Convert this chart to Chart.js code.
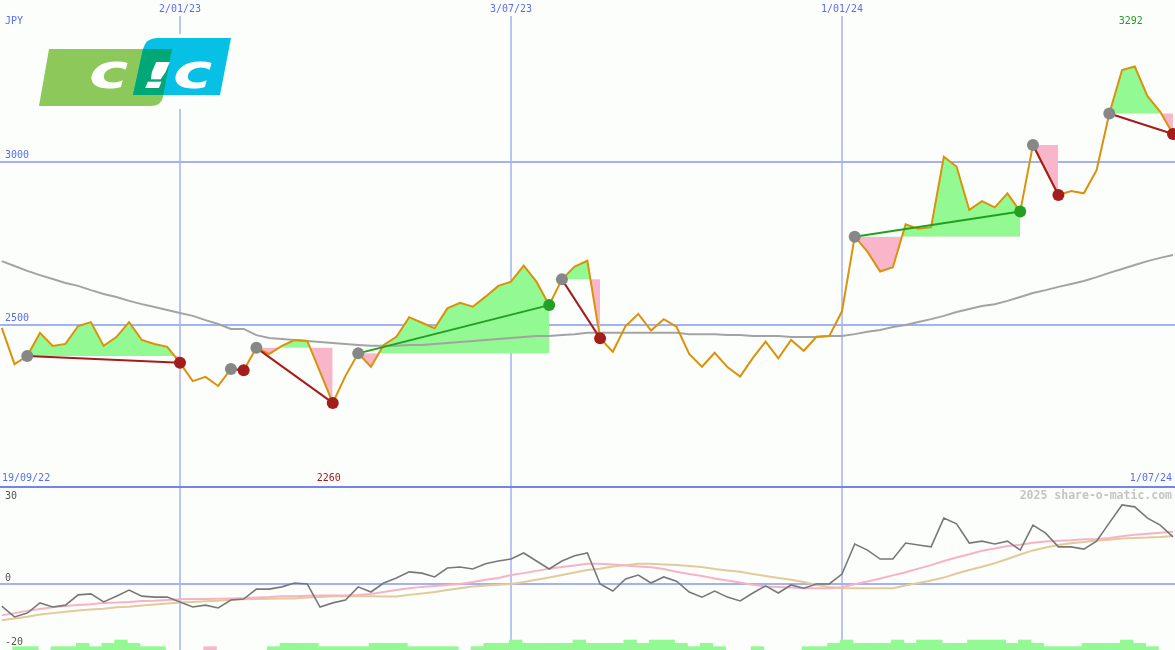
<!DOCTYPE html>
<html>
<head>
<meta charset="utf-8">
<script src="https://cdn.jsdelivr.net/npm/chart.js@4.4.1/dist/chart.umd.min.js"></script>
<style>
body { margin: 0; background: #fcfefc; }
#wrap { width: 1175px; height: 650px; position: relative; overflow: hidden; }
canvas { display: block; }
</style>
</head>
<body>
<div id="wrap">
<canvas id="priceChart" width="1175" height="488"></canvas>
<canvas id="oscChart" width="1175" height="162"></canvas>
</div>
<script>
// weekly closes, 19/09/22 .. 1/07/24 (index = week)
const price = [2490, 2379, 2404, 2475, 2435, 2441, 2496, 2508, 2435, 2462,
  2508, 2453, 2441, 2432, 2383, 2327, 2340, 2312, 2364, 2360,
  2429, 2410, 2435, 2453, 2450, 2355, 2260, 2343, 2412, 2371,
  2438, 2463, 2523, 2506, 2489, 2550, 2567, 2555, 2586, 2619,
  2632, 2681, 2632, 2560, 2639, 2678, 2696, 2458, 2417, 2496,
  2533, 2482, 2517, 2494, 2410, 2371, 2414, 2370, 2341, 2398,
  2448, 2397, 2453, 2420, 2463, 2465, 2541, 2770, 2724, 2663,
  2676, 2808, 2794, 2799, 3015, 2985, 2852, 2879, 2860, 2903,
  2847, 3051, 2974, 2898, 2910, 2903, 2974, 3148, 3281, 3292,
  3201, 3153, 3085];

const movingAvg = [2695, 2680, 2665, 2652, 2640, 2628, 2619, 2606, 2594, 2585,
  2573, 2563, 2554, 2545, 2536, 2527, 2514, 2502, 2487, 2487,
  2468, 2459, 2456, 2453, 2450, 2447, 2444, 2441, 2438, 2435,
  2435, 2435, 2438, 2438, 2441, 2444, 2447, 2450, 2453, 2456,
  2459, 2462, 2465, 2465, 2468, 2471, 2475, 2475, 2475, 2475,
  2475, 2475, 2475, 2475, 2471, 2471, 2471, 2468, 2468, 2465,
  2465, 2465, 2462, 2462, 2462, 2465, 2465, 2471, 2478, 2484,
  2493, 2499, 2508, 2517, 2527, 2539, 2548, 2557, 2563, 2573,
  2585, 2597, 2606, 2616, 2625, 2634, 2646, 2659, 2671, 2683,
  2695, 2705, 2714];

// trend swings: start week / end week
const segStart = [2, 18, 20, 28, 44, 67, 81, 87];
const segEnd = [14, 19, 26, 43, 47, 80, 83, 92];

const momentum = [-6.9, -10.3, -9.1, -5.9, -7.2, -6.6, -3.4, -3.1, -5.6, -3.8,
  -1.9, -3.8, -4.1, -4.1, -5.6, -7.2, -6.6, -7.5, -5.0, -4.7,
  -1.6, -1.6, -0.9, 0.3, 0, -7.2, -5.9, -5.0, -0.9, -2.5,
  0.3, 1.9, 3.8, 3.4, 2.2, 5.0, 5.3, 4.7, 6.3, 7.2,
  7.8, 9.7, 7.2, 4.7, 7.2, 8.8, 9.7, 0, -2.2, 1.6,
  2.8, 0.3, 2.2, 0.9, -2.5, -4.1, -2.2, -4.1, -5.3, -2.8,
  -0.6, -2.8, -0.3, -1.3, 0, 0, 3.1, 12.5, 10.6, 7.8,
  7.8, 12.8, 12.2, 11.6, 20.6, 18.8, 12.8, 13.4, 12.5, 13.4,
  10.6, 18.4, 15.9, 11.6, 11.6, 10.9, 13.4, 19.1, 24.7, 24.1,
  20.6, 18.4, 14.7];

const signalFast = [-9.8, -9.1, -8.4, -7.8, -7.3, -6.9, -6.6, -6.3, -5.9, -5.8,
  -5.6, -5.3, -5.2, -5.0, -4.8, -4.7, -4.7, -4.6, -4.5, -4.4,
  -4.2, -4.1, -3.8, -3.8, -3.7, -3.6, -3.6, -3.6, -3.4, -3.1,
  -2.5, -1.9, -1.3, -0.9, -0.6, -0.3, 0, 0.6, 1.3, 1.9,
  2.8, 3.4, 4.1, 4.8, 5.3, 5.8, 6.3, 6.3, 6.1, 5.8,
  5.5, 5.2, 4.7, 3.8, 3.1, 2.5, 1.7, 1.1, 0.5, -0.2,
  -0.8, -0.9, -1.1, -1.3, -1.3, -1.3, -1.0, -0.1, 0.8, 1.7,
  2.7, 3.7, 4.8, 5.9, 7.2, 8.3, 9.3, 10.4, 11.1, 11.9,
  12.3, 12.9, 13.3, 13.5, 13.7, 14.0, 14.1, 14.4, 14.9, 15.4,
  15.7, 16.0, 16.3];

const signalSlow = [-11.3, -10.8, -10.2, -9.5, -9.1, -8.7, -8.3, -8.0, -7.7, -7.3,
  -7.1, -6.7, -6.4, -6.1, -5.8, -5.6, -5.4, -5.2, -4.9, -4.8,
  -4.7, -4.6, -4.5, -4.5, -4.2, -4.1, -3.8, -3.8, -3.8, -3.8,
  -3.9, -3.9, -3.4, -3.0, -2.5, -1.9, -1.3, -0.8, -0.5, -0.2,
  0, 0.6, 1.3, 2.0, 2.8, 3.6, 4.4, 4.8, 5.5, 5.9,
  6.3, 6.3, 6.1, 5.9, 5.6, 5.3, 4.7, 4.2, 3.8, 3.1,
  2.5, 1.9, 1.3, 0.6, -0.3, -0.9, -1.3, -1.3, -1.3, -1.3,
  -1.3, -0.5, 0.3, 1.1, 2.0, 3.3, 4.4, 5.4, 6.5, 7.8,
  9.2, 10.5, 11.4, 12.2, 12.7, 13.1, 13.6, 13.8, 14.2, 14.4,
  14.5, 14.7, 15.0];

// strength histogram (negative = pink)
const strength = [0, 1, 1, 0, 1, 1, 2, 1, 2, 3,
  2, 1, 1, 0, 0, 0, -1, 0, 0, 0,
  0, 1, 2, 2, 2, 1, 1, 1, 1, 2,
  2, 2, 1, 1, 1, 1, 0, 1, 2, 2,
  3, 2, 2, 2, 2, 3, 2, 2, 2, 3,
  2, 3, 3, 2, 1, 2, 1, 0, 0, 1,
  0, 0, 0, 1, 1, 2, 3, 2, 2, 2,
  3, 2, 3, 3, 2, 2, 3, 3, 3, 2,
  3, 2, 1, 1, 1, 2, 2, 2, 3, 2,
  1, 0, 0];

const dateTickIdx = [14, 40, 66];
const dateTickLabels = ['2/01/23', '3/07/23', '1/01/24'];
const firstDate = '19/09/22';
const lastDate = '1/07/24';
const priceTicks = [2500, 3000];
const oscTicks = [30, 0, -20];

const XMIN = -0.14, XMAX = 92.16;
const BG = '#fcfefc';
const GRID = '#a4b2f2';
const LABEL = '#5a6cf0';
const MONO = '10px "DejaVu Sans Mono", monospace';
const GAIN_FILL = '#93f993';
const LOSS_FILL = '#f9b5ca';
const UP = '#239f23';
const DOWN = '#a41c1c';
const WEEK_PX = 1175 / (XMAX - XMIN);

function pts(arr) {
    return arr.map(function (v, i) { return {x: i, y: v}; });
}

function hline(ctx, x1, x2, y) {
    ctx.beginPath(); ctx.moveTo(x1, y); ctx.lineTo(x2, y); ctx.stroke();
}

function vline(ctx, x, y1, y2) {
    ctx.beginPath(); ctx.moveTo(x, y1); ctx.lineTo(x, y2); ctx.stroke();
}

function greenPath(ctx) {
    ctx.beginPath();
    ctx.moveTo(49, 49); ctx.lineTo(172, 49); ctx.lineTo(163, 97);
    ctx.quadraticCurveTo(161, 106, 151, 106);
    ctx.lineTo(39, 106); ctx.closePath();
}

function bluePath(ctx) {
    ctx.beginPath();
    ctx.moveTo(133, 95); ctx.lineTo(143, 49);
    ctx.quadraticCurveTo(146, 38, 157, 38);
    ctx.lineTo(231, 38); ctx.lineTo(220, 95); ctx.closePath();
}

function logoChar(ctx, ch, x, y, sx, sy) {
    ctx.save();
    ctx.translate(x, y);
    ctx.scale(sx, sy);
    ctx.fillText(ch, 0, 0);
    ctx.restore();
}

function drawLogo(ctx) {
    ctx.save();
    ctx.fillStyle = BG;
    ctx.fillRect(34, 34, 202, 75);
    ctx.fillStyle = '#8dc85a';
    greenPath(ctx); ctx.fill();
    ctx.fillStyle = '#06c0e6';
    bluePath(ctx); ctx.fill();
    ctx.save();
    greenPath(ctx); ctx.clip();
    ctx.fillStyle = '#00a878';
    bluePath(ctx); ctx.fill();
    ctx.restore();
    ctx.fillStyle = '#ffffff';
    ctx.font = 'italic bold 48px "DejaVu Sans"';
    ctx.textBaseline = 'alphabetic';
    logoChar(ctx, 'c', 89, 88, 1.38, 1);
    logoChar(ctx, 'c', 173, 88, 1.38, 1);
    logoChar(ctx, '!', 140, 88, 1.6, 0.74);
    ctx.restore();
}

const topDecor = {
    id: 'topDecor',
    beforeDatasetsDraw(chart) {
        const ctx = chart.ctx, x = chart.scales.x, y = chart.scales.y;
        ctx.save();
        ctx.strokeStyle = GRID;
        ctx.lineWidth = 2;
        priceTicks.forEach(function (v) { hline(ctx, 0, 1175, Math.round(y.getPixelForValue(v))); });
        ctx.lineWidth = 1.5;
        dateTickIdx.forEach(function (k) { vline(ctx, Math.round(x.getPixelForValue(k)), 16, 488); });
        ctx.restore();
    },
    afterDraw(chart) {
        const ctx = chart.ctx, x = chart.scales.x, y = chart.scales.y;
        drawLogo(ctx);
        ctx.save();
        ctx.strokeStyle = '#7484ea';
        ctx.lineWidth = 2;
        hline(ctx, 0, 1175, 487);
        ctx.font = MONO;
        ctx.textBaseline = 'middle';
        ctx.fillStyle = LABEL;
        ctx.textAlign = 'left';
        ctx.fillText('JPY', 5, 21);
        priceTicks.forEach(function (v) { ctx.fillText(String(v), 5, y.getPixelForValue(v) - 6.5); });
        ctx.fillText(firstDate, 2, 478);
        ctx.textAlign = 'right';
        ctx.fillText(lastDate, 1172, 478);
        ctx.textAlign = 'center';
        dateTickIdx.forEach(function (k, i) { ctx.fillText(dateTickLabels[i], x.getPixelForValue(k), 9); });
        let hi = 0, lo = 0;
        price.forEach(function (v, i) {
            if (v > price[hi]) hi = i;
            if (v < price[lo]) lo = i;
        });
        ctx.fillStyle = UP;
        ctx.fillText(String(price[hi]), x.getPixelForValue(hi) - 4, 21);
        ctx.fillStyle = DOWN;
        ctx.fillText(String(price[lo]), x.getPixelForValue(lo) - 4, 478);
        ctx.restore();
    }
};

const oscDecor = {
    id: 'oscDecor',
    beforeDatasetsDraw(chart) {
        const ctx = chart.ctx, x = chart.scales.x, y = chart.scales.y;
        ctx.save();
        ctx.strokeStyle = GRID;
        ctx.lineWidth = 2;
        hline(ctx, 0, 1175, Math.round(y.getPixelForValue(0)));
        ctx.lineWidth = 1.5;
        dateTickIdx.forEach(function (k) { vline(ctx, Math.round(x.getPixelForValue(k)), 0, 162); });
        ctx.restore();
    },
    afterDraw(chart) {
        const ctx = chart.ctx, y = chart.scales.y;
        ctx.save();
        ctx.font = MONO;
        ctx.textBaseline = 'middle';
        ctx.fillStyle = '#555555';
        oscTicks.forEach(function (v) {
            const py = Math.min(154, Math.max(8, y.getPixelForValue(v) - 6));
            ctx.fillText(String(v), 5, py);
        });
        ctx.font = 'bold 11.5px "DejaVu Sans Mono", monospace';
        ctx.fillStyle = '#c4c4c4';
        ctx.textAlign = 'right';
        ctx.fillText('2025 share-o-matic.com', 1172, 8);
        ctx.restore();
    }
};

// top panel datasets (first in list is drawn on top)
const topSets = [];
const endDots = [], endColors = [], startDots = [];
segStart.forEach(function (s, i) {
    const e = segEnd[i];
    const col = price[e] >= price[s] ? UP : DOWN;
    endDots.push({x: e, y: price[e]});
    endColors.push(col);
    startDots.push({x: s, y: price[s]});
});
topSets.push({type: 'scatter', data: endDots, pointRadius: 6, pointBackgroundColor: endColors, pointBorderWidth: 0});
topSets.push({type: 'scatter', data: startDots, pointRadius: 6, pointBackgroundColor: '#878787', pointBorderWidth: 0});
segStart.forEach(function (s, i) {
    const e = segEnd[i];
    topSets.push({
        data: [{x: s, y: price[s]}, {x: e, y: price[e]}],
        borderColor: price[e] >= price[s] ? UP : DOWN, borderWidth: 2, pointRadius: 0, fill: false
    });
});
topSets.push({data: pts(price), borderColor: '#d9920a', borderWidth: 2, pointRadius: 0, fill: false});
topSets.push({data: pts(movingAvg), borderColor: '#a3a3a3', borderWidth: 2, pointRadius: 0, fill: false});
segStart.forEach(function (s, i) {
    const e = segEnd[i];
    const seg = [];
    for (let k = s; k <= e; k++) seg.push({x: k, y: price[k]});
    topSets.push({
        data: seg, borderWidth: 0, borderColor: 'rgba(0,0,0,0)', pointRadius: 0,
        fill: {target: {value: price[s]}, above: GAIN_FILL, below: LOSS_FILL}
    });
});

new Chart(document.getElementById('priceChart'), {
    type: 'line',
    data: {datasets: topSets},
    options: {
        responsive: false, devicePixelRatio: 1, animation: false,
        layout: {padding: 0, autoPadding: false},
        plugins: {legend: {display: false}, tooltip: {enabled: false}},
        elements: {line: {tension: 0}},
        scales: {
            x: {type: 'linear', display: false, min: XMIN, max: XMAX},
            y: {type: 'linear', display: false, min: 1999, max: 3496}
        }
    },
    plugins: [topDecor]
});

const barPts = [], barColors = [];
strength.forEach(function (v, k) {
    if (v === 0) return;
    barPts.push({x: k, y: Math.abs(v)});
    barColors.push(v > 0 ? GAIN_FILL : LOSS_FILL);
});

new Chart(document.getElementById('oscChart'), {
    type: 'line',
    data: {
        datasets: [
            {data: pts(momentum), borderColor: '#787878', borderWidth: 1.6, pointRadius: 0},
            {data: pts(signalFast), borderColor: '#f8b2c6', borderWidth: 2, pointRadius: 0},
            {data: pts(signalSlow), borderColor: '#e2ca9a', borderWidth: 2, pointRadius: 0},
            {type: 'bar', data: barPts, backgroundColor: barColors, borderWidth: 0,
                barThickness: WEEK_PX, grouped: false, xAxisID: 'xb', yAxisID: 'yb'}
        ]
    },
    options: {
        responsive: false, devicePixelRatio: 1, animation: false,
        layout: {padding: 0, autoPadding: false},
        plugins: {legend: {display: false}, tooltip: {enabled: false}},
        elements: {line: {tension: 0}},
        scales: {
            x: {type: 'linear', display: false, min: XMIN, max: XMAX},
            xb: {type: 'linear', display: false, offset: false, min: XMIN - 0.36, max: XMAX - 0.36},
            y: {type: 'linear', display: false, min: -20.625, max: 30},
            yb: {type: 'linear', display: false, min: 0, max: 48.6}
        }
    },
    plugins: [oscDecor]
});
</script>
</body>
</html>
